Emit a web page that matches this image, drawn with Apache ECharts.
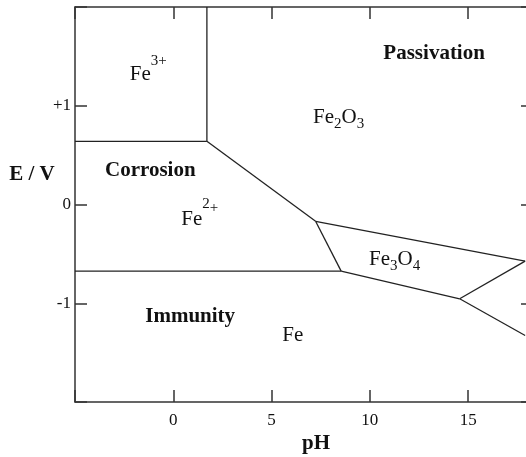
<!DOCTYPE html>
<html>
<head>
<meta charset="utf-8">
<title>Pourbaix diagram of iron</title>
<script src="https://cdn.jsdelivr.net/npm/echarts@6/dist/echarts.min.js"></script>
<style>
  html, body { margin: 0; padding: 0; background: #fff; }
  #chart { width: 526px; height: 457px; }
</style>
</head>
<body>
<div id="chart"></div>
<script>
// Axis ranges and labelled ticks
const pHRange = [-5, 18.3];
const eRange = [-2, 2];
const pHTickLabels = [0, 5, 10, 15];
const eTickLabels = { '1': '+1', '0': '0', '-1': '-1' };

// Phase boundaries as [pH, E/V] vertices
const feIIIfeII = [[-5, 0.64], [1.71, 0.64]];
const feIIIfe2o3 = [[1.71, 0.64], [1.71, 2.0]];
const feIIfe2o3 = [[1.71, 0.64], [7.24, -0.17]];
const fe2o3fe3o4 = [[7.24, -0.17], [17.9, -0.574]];
const feIIfe3o4 = [[7.24, -0.17], [8.54, -0.675]];
const feIIfe = [[-5, -0.675], [8.54, -0.675]];
const fe3o4fe = [[8.54, -0.675], [14.57, -0.955]];
const fe3o4hfeo2 = [[14.57, -0.955], [17.9, -0.574]];
const fehfeo2 = [[14.57, -0.955], [17.9, -1.327]];

const boundaries = [feIIIfeII, feIIIfe2o3, feIIfe2o3, fe2o3fe3o4, feIIfe3o4,
                    feIIfe, fe3o4fe, fe3o4hfeo2, fehfeo2];

// Region names, anchored at [pH, E/V]
const regionLabels = [
  { text: '{m|Fe}{sup3|3+}', at: [-1.27, 1.317] },
  { text: '{b|Passivation}', at: [13.27, 1.525] },
  { text: '{m|Fe}{sub|2}{m|O}{sub|3}', at: [8.41, 0.881] },
  { text: '{b|Corrosion}', at: [-1.17, 0.344] },
  { text: '{m|Fe}{sup2|2}{plus|+}', at: [1.35, -0.152] },
  { text: '{m|Fe}{sub|3}{m|O}{sub|4}', at: [11.26, -0.557] },
  { text: '{b|Immunity}', at: [0.86, -1.135] },
  { text: '{m|Fe}', at: [6.08, -1.327] }
];

const SERIF = "'Liberation Serif', 'DejaVu Serif', serif";
const INK = '#111';
const FRAME = '#333';

const frameLine = { show: true, onZero: false, lineStyle: { color: FRAME, width: 1.5 } };
const frameTick = { show: true, inside: true, length: 12, lineStyle: { color: FRAME, width: 1.5 } };

const chart = echarts.init(document.getElementById('chart'), null, { renderer: 'canvas' });

chart.setOption({
  animation: false,
  backgroundColor: '#fff',
  grid: { left: 75, top: 7, width: 458, height: 395, containLabel: false, outerBoundsMode: 'none' },
  xAxis: [
    {
      type: 'value', position: 'bottom', min: pHRange[0], max: pHRange[1], interval: 5,
      axisLine: frameLine, axisTick: frameTick, splitLine: { show: false },
      axisLabel: {
        margin: 10, fontFamily: SERIF, fontSize: 17, color: INK,
        formatter: v => (pHTickLabels.indexOf(v) >= 0 ? String(v) : '')
      }
    },
    {
      type: 'value', position: 'top', min: pHRange[0], max: pHRange[1], interval: 5,
      axisLine: frameLine, axisTick: frameTick, splitLine: { show: false },
      axisLabel: { show: false }
    }
  ],
  yAxis: [
    {
      type: 'value', position: 'left', min: eRange[0], max: eRange[1], interval: 1,
      axisLine: frameLine, axisTick: frameTick, splitLine: { show: false },
      axisLabel: {
        margin: 4, fontFamily: SERIF, fontSize: 17, color: INK,
        formatter: v => (eTickLabels[String(v)] !== undefined ? eTickLabels[String(v)] : '')
      }
    },
    {
      type: 'value', position: 'right', min: eRange[0], max: eRange[1], interval: 1,
      axisLine: frameLine, axisTick: frameTick, splitLine: { show: false },
      axisLabel: { show: false }
    }
  ],
  series: boundaries.map(pts => ({
    type: 'line',
    data: pts,
    showSymbol: false,
    silent: true,
    lineStyle: { color: '#222', width: 1.3 }
  })).concat([{
    type: 'scatter',
    symbolSize: 0,
    silent: true,
    itemStyle: { opacity: 1 },
    data: regionLabels.map(r => ({ value: r.at, label: { formatter: r.text } })),
    label: {
      show: true,
      position: 'inside',
      rich: {
        m: { fontFamily: SERIF, fontSize: 21, color: INK },
        b: { fontFamily: SERIF, fontSize: 21, fontWeight: 'bold', color: INK },
        sup3: { fontFamily: SERIF, fontSize: 15, color: INK, padding: [0, 0, 26, 0] },
        sup2: { fontFamily: SERIF, fontSize: 15, color: INK, padding: [0, 0, 30, 0] },
        plus: { fontFamily: SERIF, fontSize: 15, color: INK, padding: [0, 0, 22, 0] },
        sub: { fontFamily: SERIF, fontSize: 15, color: INK, padding: [14, 0, 0, 0] }
      }
    }
  }]),
  graphic: [
    {
      type: 'text', x: 32, y: 175,
      style: { text: 'E / V', font: 'bold 21px ' + SERIF, fill: INK, align: 'center', verticalAlign: 'middle' }
    },
    {
      type: 'text', x: 316, y: 444,
      style: { text: 'pH', font: 'bold 21px ' + SERIF, fill: INK, align: 'center', verticalAlign: 'middle' }
    }
  ]
});
</script>
</body>
</html>
